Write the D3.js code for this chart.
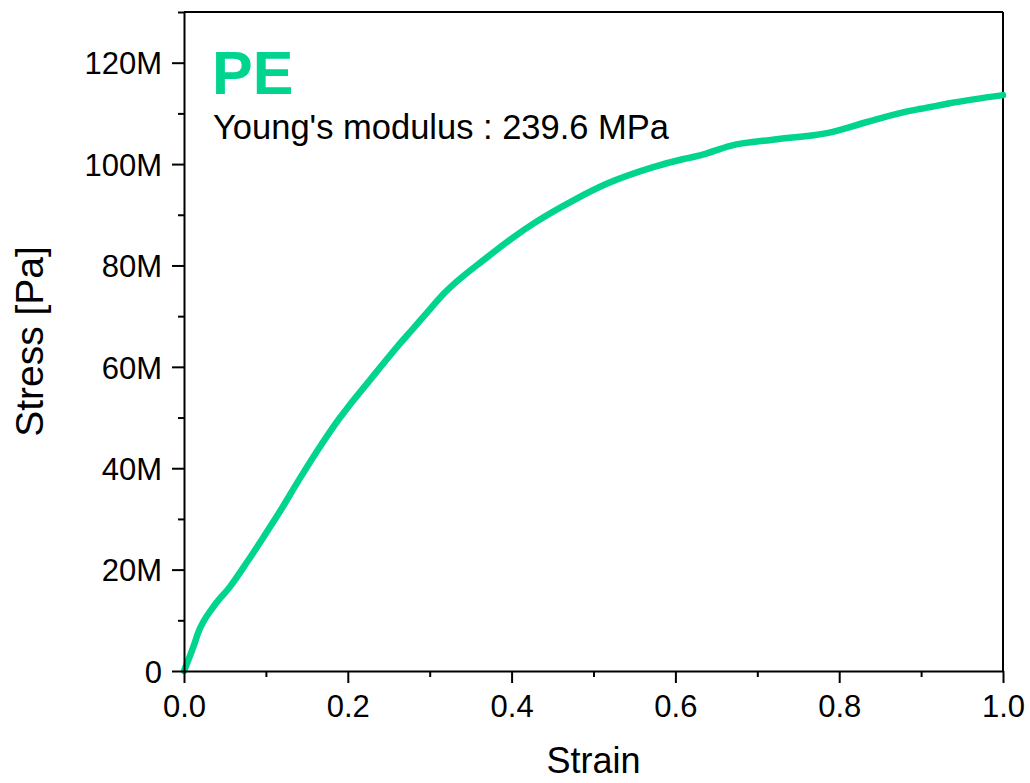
<!DOCTYPE html>
<html>
<head>
<meta charset="utf-8">
<script src="https://cdn.jsdelivr.net/npm/d3@7"></script>
<style>
  html, body { margin: 0; padding: 0; background: #fff; }
  svg { display: block; font-family: "Liberation Sans", Arial, sans-serif; }
</style>
</head>
<body>
<svg id="chart" width="1030" height="783"></svg>
<script>
// ---- data ----
const strain = [0.000, 0.013, 0.017, 0.036, 0.056, 0.077, 0.097, 0.118, 0.140, 0.163, 0.191, 0.200, 0.222, 0.260, 0.280, 0.301, 0.317, 0.370, 0.400, 0.427, 0.475, 0.516, 0.573, 0.610, 0.630, 0.667, 0.724, 0.785, 0.834, 0.886, 0.900, 0.935, 1.000];
const stressMPa = [0.0, 5.5, 7.4, 12.7, 16.6, 21.5, 26.4, 31.7, 37.6, 43.5, 50.1, 52.0, 56.4, 63.9, 67.6, 71.5, 74.4, 81.6, 85.3, 88.3, 92.8, 96.1, 99.4, 101.0, 101.7, 103.6, 104.9, 106.1, 108.3, 110.5, 110.9, 112.0, 113.6];
const xTicks = [0.0, 0.2, 0.4, 0.6, 0.8, 1.0];
const xTickLabels = ["0.0", "0.2", "0.4", "0.6", "0.8", "1.0"];
const yTicks = [0, 20e6, 40e6, 60e6, 80e6, 100e6, 120e6];
const yTickLabels = ["0", "20M", "40M", "60M", "80M", "100M", "120M"];
const xMinorTicks = [0.1, 0.3, 0.5, 0.7, 0.9];
const yMinorTicks = [10e6, 30e6, 50e6, 70e6, 90e6, 110e6, 130e6];
const sampleName = "PE";
const modulusText = "Young's modulus : 239.6 MPa";
const xTitle = "Strain";
const yTitle = "Stress [Pa]";

const data = strain.map((s, i) => ({ x: s, y: stressMPa[i] * 1e6 }));

// ---- layout ----
const L = 184, R = 1003, T = 12, B = 671;
const green = "#00D48E";
const svg = d3.select("#chart");

const x = d3.scaleLinear().domain([0, 1]).range([L, R]);
const y = d3.scaleLinear().domain([0, 130e6]).range([B, T]);

// frame top/right
svg.append("line").attr("x1", L).attr("x2", R).attr("y1", T).attr("y2", T)
  .attr("stroke", "#000").attr("stroke-width", 2);
svg.append("line").attr("x1", R).attr("x2", R).attr("y1", T).attr("y2", B)
  .attr("stroke", "#000").attr("stroke-width", 2);

// curve
const line = d3.line().x(d => x(d.x)).y(d => y(d.y)).curve(d3.curveMonotoneX);
svg.append("path").datum(data).attr("d", line)
  .attr("fill", "none").attr("stroke", green).attr("stroke-width", 6.5)
  .attr("stroke-linecap", "round").attr("stroke-linejoin", "round");

// minor ticks
const gxm = svg.append("g").attr("transform", `translate(0,${B})`)
  .call(d3.axisBottom(x).tickValues(xMinorTicks).tickSize(6).tickFormat(""));
const gym = svg.append("g").attr("transform", `translate(${L},0)`)
  .call(d3.axisLeft(y).tickValues(yMinorTicks).tickSize(6).tickFormat(""));
[gxm, gym].forEach(g => { g.select(".domain").remove(); g.selectAll("line").attr("stroke", "#000").attr("stroke-width", 2); });

// major axes
const gx = svg.append("g").attr("transform", `translate(0,${B})`)
  .call(d3.axisBottom(x).tickValues(xTicks).tickSizeInner(12).tickSizeOuter(0).tickPadding(12)
    .tickFormat((d, i) => xTickLabels[i]));
const gy = svg.append("g").attr("transform", `translate(${L},0)`)
  .call(d3.axisLeft(y).tickValues(yTicks).tickSizeInner(12).tickSizeOuter(0).tickPadding(10)
    .tickFormat((d, i) => yTickLabels[i]));
[gx, gy].forEach(g => {
  g.select(".domain").attr("stroke", "#000").attr("stroke-width", 2);
  g.selectAll(".tick line").attr("stroke", "#000").attr("stroke-width", 2);
  g.selectAll(".tick text").attr("fill", "#000").style("font-size", "31px")
    .style("font-family", "'Liberation Sans', Arial, sans-serif");
});
gy.selectAll(".tick text").attr("dy", "0.36em");

// axis titles
svg.append("text").attr("x", (L + R) / 2).attr("y", 773).attr("text-anchor", "middle")
  .style("font-size", "36px").attr("fill", "#000").text(xTitle);
svg.append("text").attr("transform", `translate(43,${(T + B) / 2}) rotate(-90)`)
  .attr("text-anchor", "middle").style("font-size", "39px").attr("fill", "#000").text(yTitle);

// annotations
svg.append("text").attr("x", 212).attr("y", 94).style("font-size", "61px")
  .style("font-weight", "bold").attr("fill", green).text(sampleName);
svg.append("text").attr("x", 213).attr("y", 139).style("font-size", "34.5px")
  .attr("fill", "#000").text(modulusText);
</script>
</body>
</html>
